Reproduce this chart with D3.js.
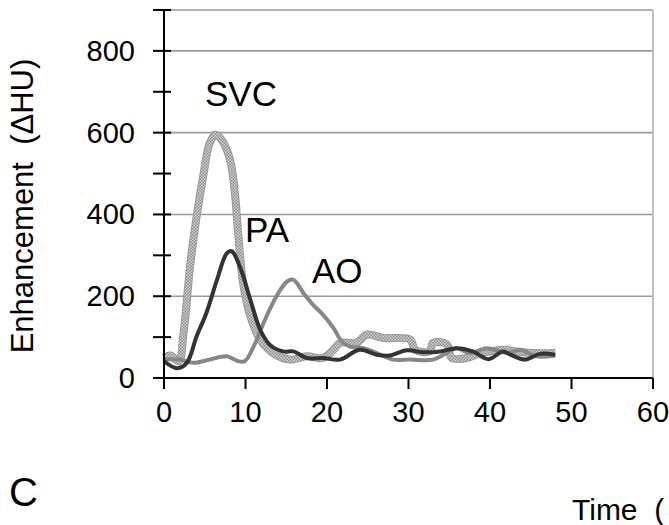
<!DOCTYPE html>
<html>
<head>
<meta charset="utf-8">
<script src="https://cdnjs.cloudflare.com/ajax/libs/d3/7.8.5/d3.min.js"></script>
<style>
  body { margin: 0; background: #fff; }
  svg { display: block; font-family: "Liberation Sans", Arial, sans-serif; }
  text { white-space: pre; }
</style>
</head>
<body>
<svg id="chart" width="669" height="525"></svg>
<script>
// time points (s) and enhancement values (HU)
var svcTime = [0, 0.8, 1.8, 2.4, 3.2, 4, 4.8, 5.6, 6.3, 7.1, 8.1, 8.7, 9.1, 9.7, 10.6, 11.8, 13.4, 15.5, 17.5, 19.5, 20.8, 21.6, 23.6, 24.9, 26.9, 30.2, 30.8, 32.6, 33, 34.7, 35.3, 37.1, 38.8, 40, 41.6, 43.3, 45.3, 48];
var svcVals = [49, 55, 41, 110, 273, 395, 493, 574, 595, 582, 534, 452, 354, 232, 151, 94, 61, 45, 53, 49, 69, 86, 86, 106, 98, 94, 69, 65, 86, 82, 49, 49, 61, 65, 69, 65, 61, 61];

var paTime = [0, 1.6, 2.8, 4, 5.2, 6.5, 7.7, 8.3, 9.3, 10.6, 11.8, 13, 14.6, 15.9, 17.5, 19.5, 21.6, 24, 26.1, 27.7, 29.8, 31.8, 33.9, 35.9, 37.9, 39.8, 41.6, 42.5, 44.3, 46.1, 48];
var paVals = [41, 24, 37, 102, 159, 240, 305, 310, 273, 191, 118, 81, 65, 65, 49, 49, 45, 69, 57, 55, 68, 63, 65, 73, 65, 46, 65, 57, 45, 59, 57];

var aoTime = [0, 2, 3.6, 5.6, 7.7, 9.1, 9.9, 11, 12.4, 13.8, 15.1, 15.9, 17.1, 18.3, 19.5, 20.8, 21.8, 22.8, 24.5, 26.1, 28.1, 30.2, 33, 34.3, 35.9, 37.5, 39.6, 41.2, 42.2, 43.7, 45.7, 48];
var aoVals = [45, 45, 37, 45, 53, 41, 41, 77, 143, 200, 236, 240, 208, 179, 155, 122, 90, 77, 73, 61, 45, 45, 45, 57, 73, 61, 73, 65, 61, 69, 53, 55];

var xTicks = [0, 10, 20, 30, 40, 50, 60];
var yTicks = [0, 100, 200, 300, 400, 500, 600, 700, 800, 900];
var yLabels = [0, 200, 400, 600, 800];
var gridVals = [200, 400, 600, 800, 900];

var svg = d3.select("#chart");

var x = d3.scaleLinear().domain([0, 60]).range([164, 653]);
var y = d3.scaleLinear().domain([0, 900]).range([378, 10]);

// stipple pattern for the SVC line
var defs = svg.append("defs");
var pat = defs.append("pattern")
  .attr("id", "stipple")
  .attr("patternUnits", "userSpaceOnUse")
  .attr("width", 3).attr("height", 3);
pat.append("rect").attr("width", 3).attr("height", 3).attr("fill", "#d4d4d4");
pat.append("rect").attr("width", 1.5).attr("height", 1.5).attr("fill", "#8a8a8a");
pat.append("rect").attr("x", 1.5).attr("y", 1.5).attr("width", 1.5).attr("height", 1.5).attr("fill", "#8a8a8a");

// grid
svg.append("g").selectAll("line")
  .data(gridVals)
  .enter().append("line")
  .attr("x1", x(0)).attr("x2", x(60))
  .attr("y1", function(d) { return y(d); })
  .attr("y2", function(d) { return y(d); })
  .style("stroke", "#999")
  .style("stroke-width", 1.6);

svg.append("line")
  .attr("x1", x(60)).attr("x2", x(60))
  .attr("y1", y(900)).attr("y2", y(0))
  .style("stroke", "#b0b0b0")
  .style("stroke-width", 1.6);

// lines
function makeLine(times, vals) {
  return d3.line()
    .x(function(d, i) { return x(times[i]); })
    .y(function(d) { return y(d); })
    .curve(d3.curveCatmullRom.alpha(0.5))(vals);
}

svg.append("path")
  .attr("d", makeLine(svcTime, svcVals))
  .style("fill", "none")
  .style("stroke", "#9a9a9a")
  .style("stroke-width", 8)
  .style("stroke-linejoin", "round");
svg.append("path")
  .attr("d", makeLine(svcTime, svcVals))
  .style("fill", "none")
  .style("stroke", "url(#stipple)")
  .style("stroke-width", 6)
  .style("stroke-linejoin", "round");

svg.append("path")
  .attr("d", makeLine(aoTime, aoVals))
  .style("fill", "none")
  .style("stroke", "#878787")
  .style("stroke-width", 4)
  .style("stroke-linejoin", "round");

svg.append("path")
  .attr("d", makeLine(paTime, paVals))
  .style("fill", "none")
  .style("stroke", "#333")
  .style("stroke-width", 4)
  .style("stroke-linejoin", "round");

// y axis
svg.append("line")
  .attr("x1", x(0)).attr("x2", x(0))
  .attr("y1", y(900)).attr("y2", y(0) + 11)
  .style("stroke", "#000").style("stroke-width", 2);

svg.append("g").selectAll("line")
  .data(yTicks)
  .enter().append("line")
  .attr("x1", x(0) - 11).attr("x2", x(0) + 7)
  .attr("y1", function(d) { return y(d); })
  .attr("y2", function(d) { return y(d); })
  .style("stroke", "#000").style("stroke-width", 2);

svg.append("g").selectAll("text")
  .data(yLabels)
  .enter().append("text")
  .attr("x", 135)
  .attr("y", function(d) { return y(d) + 10; })
  .attr("text-anchor", "end")
  .style("font-size", "29px")
  .text(function(d) { return d; });

// x axis
svg.append("line")
  .attr("x1", x(0)).attr("x2", x(60))
  .attr("y1", y(0)).attr("y2", y(0))
  .style("stroke", "#000").style("stroke-width", 2);

svg.append("g").selectAll("line")
  .data(xTicks)
  .enter().append("line")
  .attr("x1", function(d) { return x(d); })
  .attr("x2", function(d) { return x(d); })
  .attr("y1", y(0)).attr("y2", y(0) + 11)
  .style("stroke", "#000").style("stroke-width", 2);

svg.append("g").selectAll("text")
  .data(xTicks)
  .enter().append("text")
  .attr("x", function(d) { return x(d); })
  .attr("y", 422)
  .attr("text-anchor", "middle")
  .style("font-size", "29px")
  .text(function(d) { return d; });

// axis titles
svg.append("text")
  .attr("transform", "translate(33,206) rotate(-90)")
  .attr("text-anchor", "middle")
  .style("font-size", "31px")
  .text("Enhancement  (\u0394HU)");

svg.append("text")
  .attr("x", 572).attr("y", 520)
  .style("font-size", "30px")
  .text("Time  (");

svg.append("text")
  .attr("x", 9).attr("y", 506)
  .style("font-size", "40px")
  .text("C");

// curve labels
var labels = [["SVC", 205, 106], ["PA", 245, 242], ["AO", 312, 283]];
svg.append("g").selectAll("text")
  .data(labels)
  .enter().append("text")
  .attr("x", function(d) { return d[1]; })
  .attr("y", function(d) { return d[2]; })
  .style("font-size", "35px")
  .text(function(d) { return d[0]; });
</script>
</body>
</html>
